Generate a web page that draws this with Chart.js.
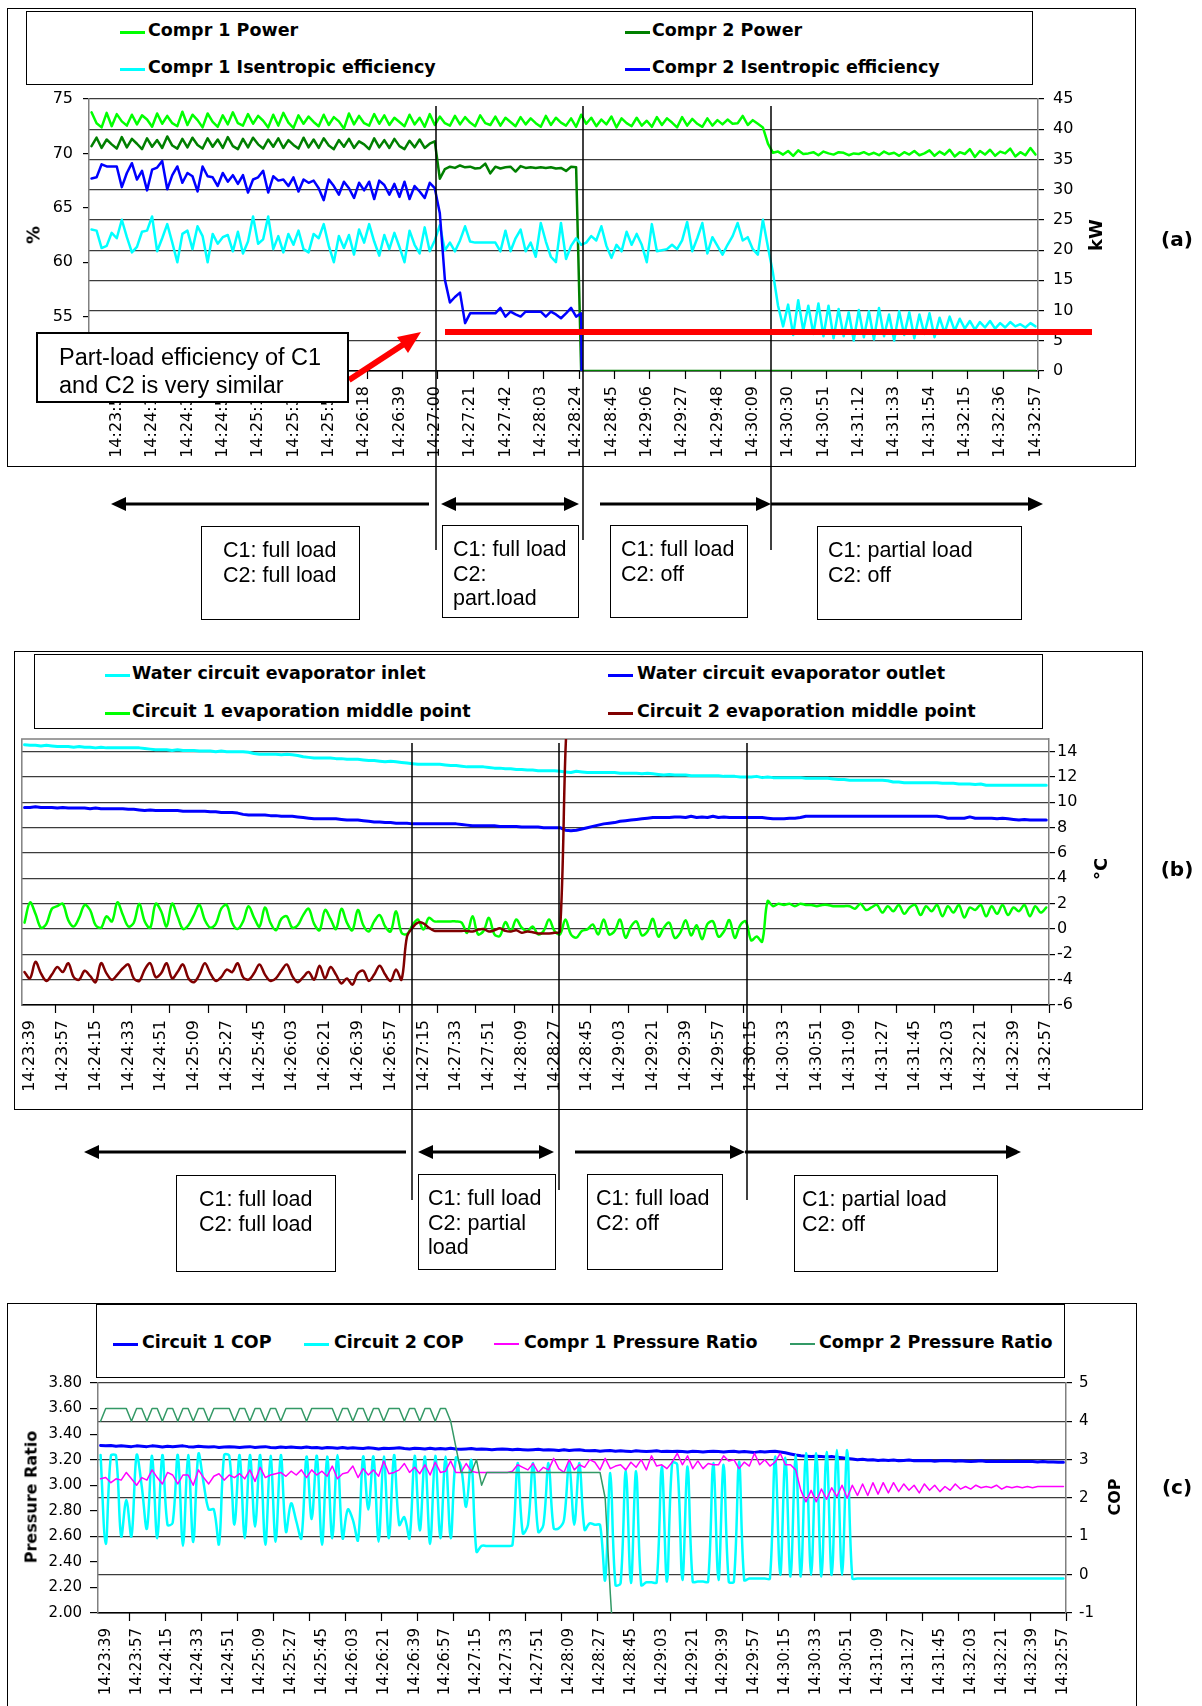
<!DOCTYPE html>
<html>
<head>
<meta charset="utf-8">
<title>Compressor part-load test</title>
<script src="https://cdn.jsdelivr.net/npm/chart.js"></script>
<style>
  html, body { margin: 0; padding: 0; background: #fff; }
  #page { position: relative; width: 1202px; height: 1706px; overflow: hidden; }
  .frame { position: absolute; border: 1.5px solid #000; box-sizing: border-box; }
  canvas { position: absolute; z-index: 1; }
  .legend { position: absolute; border: 1.5px solid #000; box-sizing: border-box; background: #fff; z-index: 2; }
  .lg-line { position: absolute; z-index: 3; }
  .lg-text { position: absolute; z-index: 3; height: 24px; line-height: 24px; white-space: nowrap;
             font: bold 17.5px "DejaVu Sans", Verdana, sans-serif; color: #000; }
  .vtitle { position: absolute; z-index: 3; white-space: nowrap; color: #000;
            transform: translate(-50%, -50%) rotate(-90deg); font: bold 18px "DejaVu Sans", sans-serif; }
  .tag { position: absolute; z-index: 3; transform: translate(-50%, -50%); font: bold 20px "DejaVu Sans", sans-serif; }
  .note { position: absolute; z-index: 5; box-sizing: border-box; border: 1.5px solid #000; background: #fff;
          font: 21.5px "Liberation Sans", Arial, sans-serif; line-height: 24.5px; color: #000;
          white-space: nowrap; overflow: hidden; padding-top: 11px; }
  #overlay { position: absolute; left: 0; top: 0; z-index: 4; }
</style>
</head>
<body>
<div id="page">
  <!-- panel frames -->
  <div class="frame" style="left:7px;top:8px;width:1129px;height:459px"></div>
  <div class="frame" style="left:14px;top:651px;width:1129px;height:459px"></div>
  <div class="frame" style="left:7px;top:1303px;width:1130px;height:440px"></div>

  <canvas id="cA" width="1129" height="459" style="left:7px;top:8px"></canvas>
  <canvas id="cB" width="1128" height="459" style="left:15px;top:651px"></canvas>
  <canvas id="cC" width="1130" height="403" style="left:7px;top:1303px"></canvas>

  <div class="legend" style="left:26px;top:11px;width:1007px;height:74px"></div>
  <div class="legend" style="left:34px;top:654px;width:1009px;height:75px"></div>
  <div class="legend" style="left:96px;top:1304px;width:969px;height:74px"></div>

  <!-- axis titles / panel tags -->
  <div class="vtitle" style="left:33px;top:235px">%</div>
  <div class="vtitle" style="left:1095px;top:235px">kW</div>
  <div class="tag" style="left:1177px;top:239px">(a)</div>
  <div class="vtitle" style="left:1100px;top:869px">°C</div>
  <div class="tag" style="left:1177px;top:869px">(b)</div>
  <div class="vtitle" style="left:31px;top:1497px;font-size:16px">Pressure Ratio</div>
  <div class="vtitle" style="left:1114px;top:1497px;font-size:16px">COP</div>
  <div class="tag" style="left:1177px;top:1487px">(c)</div>

  <!-- annotations -->
  <div class="note" style="left:36px;top:332px;width:313px;height:71px;border-width:2px;font-size:23.5px;line-height:28px;padding:9px 0 0 21px">Part-load efficiency of C1<br>and C2 is very similar</div>

  <div class="note" style="left:201px;top:526px;width:159px;height:94px;padding-left:21px">C1: full load<br>C2: full load</div>
  <div class="note" style="left:442px;top:525px;width:137px;height:93px;padding-left:10px">C1: full load<br>C2:<br>part.load</div>
  <div class="note" style="left:610px;top:525px;width:138px;height:93px;padding-left:10px">C1: full load<br>C2: off</div>
  <div class="note" style="left:817px;top:526px;width:205px;height:94px;padding-left:10px">C1: partial load<br>C2: off</div>

  <div class="note" style="left:176px;top:1175px;width:160px;height:97px;padding-left:22px">C1: full load<br>C2: full load</div>
  <div class="note" style="left:418px;top:1174px;width:138px;height:96px;padding-left:9px">C1: full load<br>C2: partial<br>load</div>
  <div class="note" style="left:587px;top:1174px;width:136px;height:96px;padding-left:8px">C1: full load<br>C2: off</div>
  <div class="note" style="left:794px;top:1175px;width:204px;height:97px;padding-left:7px">C1: partial load<br>C2: off</div>

  <svg id="overlay" width="1202" height="1706">
    <g stroke="#000" stroke-width="1.5">
      <line x1="436" y1="106" x2="436" y2="550"/>
      <line x1="583" y1="106" x2="583" y2="540"/>
      <line x1="771" y1="106" x2="771" y2="550"/>
      <line x1="412" y1="743" x2="412" y2="1200"/>
      <line x1="559" y1="743" x2="559" y2="1190"/>
      <line x1="747" y1="743" x2="747" y2="1200"/>
    </g>
    <g stroke="#000" stroke-width="3">
      <line x1="126" y1="504" x2="429" y2="504"/>
      <line x1="456" y1="504" x2="564" y2="504"/>
      <line x1="600" y1="504" x2="756" y2="504"/>
      <line x1="771" y1="504" x2="1028" y2="504"/>
      <line x1="99" y1="1152" x2="406" y2="1152"/>
      <line x1="433" y1="1152" x2="539" y2="1152"/>
      <line x1="575" y1="1152" x2="730" y2="1152"/>
      <line x1="745" y1="1152" x2="1006" y2="1152"/>
    </g>
    <g fill="#000">
      <polygon points="111,504 126,497 126,511"/>
      <polygon points="441,504 456,497 456,511"/>
      <polygon points="579,504 564,497 564,511"/>
      <polygon points="771,504 756,497 756,511"/>
      <polygon points="1043,504 1028,497 1028,511"/>
      <polygon points="84,1152 99,1145 99,1159"/>
      <polygon points="418,1152 433,1145 433,1159"/>
      <polygon points="554,1152 539,1145 539,1159"/>
      <polygon points="745,1152 730,1145 730,1159"/>
      <polygon points="1021,1152 1006,1145 1006,1159"/>
    </g>
    <line x1="445" y1="332" x2="1092" y2="332" stroke="#FF0000" stroke-width="6"/>
    <line x1="349" y1="380" x2="404" y2="344" stroke="#FF0000" stroke-width="6"/>
    <polygon points="421,332 397,337 408,353" fill="#FF0000"/>
  </svg>
</div>

<script>
// ---------------- time axis ----------------
const T_START = "14:23:39";     // axis time zero
const FIRST_SAMPLE = -3;        // first logged sample (s from T_START)
const SAMPLE_STEP = 3;          // logging interval (s)
const X_MIN = -4.5, X_MAX = 559.5;

const labelsA = ["14:23:51","14:24:12","14:24:33","14:24:54","14:25:15","14:25:36","14:25:57",
  "14:26:18","14:26:39","14:27:00","14:27:21","14:27:42","14:28:03","14:28:24","14:28:45",
  "14:29:06","14:29:27","14:29:48","14:30:09","14:30:30","14:30:51","14:31:12","14:31:33",
  "14:31:54","14:32:15","14:32:36","14:32:57"];
const labelsBC = ["14:23:39","14:23:57","14:24:15","14:24:33","14:24:51","14:25:09","14:25:27",
  "14:25:45","14:26:03","14:26:21","14:26:39","14:26:57","14:27:15","14:27:33","14:27:51",
  "14:28:09","14:28:27","14:28:45","14:29:03","14:29:21","14:29:39","14:29:57","14:30:15",
  "14:30:33","14:30:51","14:31:09","14:31:27","14:31:45","14:32:03","14:32:21","14:32:39","14:32:57"];

const effTicks = [50, 55, 60, 65, 70, 75];
const kwTicks  = [0, 5, 10, 15, 20, 25, 30, 35, 40, 45];
const degTicks = [-6, -4, -2, 0, 2, 4, 6, 8, 10, 12, 14];
const prTicks  = [2.0, 2.2, 2.4, 2.6, 2.8, 3.0, 3.2, 3.4, 3.6, 3.8];
const copTicks = [-1, 0, 1, 2, 3, 4, 5];

// ---------------- (a) compressor power [kW] / isentropic efficiency [%] ----------------
const c1Power = [
  42.8,41.0,40.3,42.7,40.5,42.5,41.3,40.6,42.4,40.8,
  42.3,41.6,40.4,42.6,40.9,42.2,41.0,40.5,42.9,40.7,
  42.4,41.5,40.3,42.6,41.2,40.4,42.3,40.8,42.8,41.0,
  40.6,42.5,40.9,42.2,41.4,40.3,42.4,40.6,42.7,41.1,
  40.2,42.3,40.9,42.1,41.2,40.5,42.4,40.7,42.0,41.3,
  40.1,42.6,40.8,42.2,41.0,40.6,42.5,40.9,42.3,40.7,
  41.9,41.2,40.5,42.4,40.8,41.9,40.4,42.5,40.7,42.1,
  41.0,40.6,42.2,40.8,42.0,41.1,40.5,42.3,41.0,40.7,
  42.1,40.6,41.9,41.2,40.5,42.0,40.8,41.8,41.0,40.4,
  42.2,40.7,41.9,41.1,40.6,41.8,40.4,42.4,40.9,41.9,
  40.5,41.6,40.8,42.1,40.3,41.8,41.0,40.5,41.9,40.6,
  41.4,40.4,42.0,40.7,41.8,41.1,40.3,42.0,40.6,41.7,
  40.9,40.4,41.8,40.6,41.5,40.8,41.6,40.9,41.0,42.2,
  40.7,41.5,40.9,40.3,37.6,36.1,36.3,35.8,36.4,35.6,
  36.5,35.9,36.0,36.2,35.7,36.3,36.0,35.8,36.2,36.1,
  35.7,36.0,35.9,36.2,35.8,36.1,35.7,36.3,35.9,36.1,
  35.6,36.2,35.8,36.4,35.7,36.0,36.5,35.6,36.3,35.8,
  36.6,35.5,36.2,35.9,36.7,35.4,36.4,35.8,36.6,35.6,
  36.3,36.0,36.8,35.5,36.2,35.7,36.9,35.8
];
const c2Power = [
  37.2,38.6,36.9,38.3,37.5,36.8,38.7,37.0,38.4,37.6,
  36.7,38.5,37.1,38.2,36.9,38.8,37.3,36.8,38.4,37.0,
  38.6,37.4,36.8,38.5,37.1,38.3,36.9,38.7,37.2,36.7,
  38.4,37.0,38.6,37.5,36.8,38.3,37.1,38.5,36.9,38.2,
  37.4,36.8,38.6,37.0,38.3,36.9,38.5,37.3,36.7,38.2,
  37.1,38.4,36.9,38.0,37.5,36.7,38.5,37.0,38.2,36.9,
  38.4,37.2,36.7,38.1,37.0,38.3,36.9,37.6,38.0,31.8,
  33.4,33.8,33.6,34.0,33.7,33.8,33.5,33.6,34.3,32.7,
  33.8,33.5,33.7,33.8,33.0,33.9,33.6,33.7,33.6,33.7,
  33.6,33.7,33.5,33.6,33.1,33.8,33.7,0,0,0,
  0,0,0,0,0,0,0,0,0,0,
  0,0,0,0,0,0,0,0,0,0,
  0,0,0,0,0,0,0,0,0,0,
  0,0,0,0,0,0,0,0,0,0,
  0,0,0,0,0,0,0,0,0,0,
  0,0,0,0,0,0,0,0,0,0,
  0,0,0,0,0,0,0,0,0,0,
  0,0,0,0,0,0,0,0,0,0,
  0,0,0,0,0,0,0,0
];
const c1IsenEff = [
  63.0,62.9,61.3,61.5,62.7,62.2,63.9,62.3,60.9,61.4,
  62.8,62.9,64.2,61.0,62.2,63.5,61.8,60.0,62.6,62.9,
  61.2,63.3,62.4,60.0,62.6,61.7,62.3,62.5,61.0,62.8,
  60.8,61.9,64.2,61.7,62.1,64.2,61.2,62.4,60.9,62.6,
  61.6,62.9,61.2,60.9,62.6,62.2,63.5,61.5,60.0,62.4,
  61.3,62.5,60.7,63.0,61.8,63.5,61.9,60.6,62.5,61.2,
  62.7,61.4,60.0,62.9,61.6,60.8,63.2,61.0,62.0,63.4,
  61.1,61.8,61.0,62.0,63.3,61.9,61.8,61.8,61.8,61.8,
  61.8,61.0,62.9,61.0,62.2,63.0,61.0,61.8,60.5,63.6,
  61.9,60.5,60.0,63.6,60.3,61.5,62.2,61.6,61.8,62.4,
  62.0,63.3,61.5,60.4,61.6,61.0,62.8,61.6,62.6,61.6,
  60.0,63.5,61.0,61.1,61.2,61.6,61.2,62.0,63.7,61.0,
  62.2,63.6,60.8,62.3,61.5,60.7,61.6,62.4,63.6,62.0,
  62.3,61.2,60.7,63.9,61.4,59.0,56.0,54.1,56.1,53.3,
  56.5,53.7,56.0,53.4,56.2,53.2,56.0,53.0,55.7,53.2,
  55.4,52.8,55.6,53.1,55.5,52.9,55.8,53.2,55.2,52.8,
  55.5,53.3,55.4,53.0,55.2,53.4,55.3,53.1,54.9,53.5,
  55.0,53.7,54.8,53.9,54.6,53.8,54.5,54.0,54.6,53.9,
  54.4,54.0,54.5,54.1,54.3,54.0,54.4,54.1
];
const c2IsenEff = [
  67.7,67.8,69.0,68.8,68.8,68.8,66.9,68.2,69.1,67.6,
  68.4,66.6,68.5,68.7,69.3,66.7,68.0,68.8,67.3,68.2,
  67.9,66.5,68.8,67.9,67.8,67.0,68.2,67.4,68.0,67.2,
  68.0,66.4,67.6,67.8,68.4,66.4,67.9,67.5,67.6,67.0,
  67.8,66.5,67.6,67.3,67.5,66.8,65.7,67.6,67.0,66.2,
  67.4,66.8,65.9,67.3,66.6,67.4,65.8,67.5,67.1,66.2,
  67.2,66.0,67.4,65.8,67.0,66.5,65.9,67.3,66.8,64.5,
  58.4,56.3,56.8,57.2,54.4,55.3,55.3,55.3,55.3,55.3,
  55.3,55.8,55.0,55.45,55.2,55.0,55.45,55.45,55.45,55.45,
  55.0,55.45,55.2,54.85,55.3,55.8,55.0,55.3,0
];

// ---------------- (b) temperatures [°C] ----------------
const evapInlet = [
  14.55,14.5,14.5,14.45,14.5,14.45,14.4,14.4,14.4,14.35,
  14.4,14.35,14.35,14.3,14.35,14.3,14.3,14.3,14.3,14.3,
  14.3,14.3,14.25,14.2,14.15,14.15,14.15,14.1,14.15,14.1,
  14.1,14.1,14.05,14.05,14.05,14.0,14.05,14.0,14.0,14.0,
  14.0,13.95,13.85,13.8,13.8,13.8,13.8,13.75,13.8,13.75,
  13.7,13.6,13.55,13.5,13.5,13.5,13.5,13.45,13.45,13.4,
  13.4,13.4,13.35,13.3,13.3,13.25,13.2,13.25,13.2,13.15,
  13.1,13.05,13.0,13.0,13.0,13.0,13.0,12.95,12.9,12.9,
  12.85,12.8,12.8,12.8,12.8,12.75,12.7,12.7,12.65,12.65,
  12.6,12.6,12.55,12.55,12.5,12.5,12.5,12.5,12.45,12.4,
  12.35,12.45,12.4,12.35,12.35,12.35,12.35,12.35,12.35,12.3,
  12.3,12.3,12.3,12.25,12.3,12.25,12.2,12.15,12.2,12.15,
  12.15,12.15,12.1,12.1,12.1,12.1,12.1,12.1,12.05,12.05,
  12.05,12.0,12.0,12.0,12.05,11.95,12.0,11.95,11.95,11.95,
  11.95,11.95,11.95,11.9,11.9,11.9,11.9,11.9,11.85,11.8,
  11.8,11.75,11.75,11.75,11.75,11.75,11.75,11.75,11.7,11.6,
  11.6,11.55,11.55,11.55,11.55,11.55,11.55,11.55,11.5,11.5,
  11.5,11.45,11.45,11.45,11.4,11.45,11.35,11.35,11.35,11.35,
  11.35,11.35,11.35,11.35,11.35,11.35,11.35,11.35
];
const evapOutlet = [
  9.6,9.6,9.65,9.6,9.6,9.6,9.55,9.6,9.55,9.55,
  9.55,9.55,9.5,9.55,9.5,9.5,9.5,9.5,9.5,9.45,
  9.45,9.4,9.35,9.4,9.35,9.35,9.35,9.35,9.35,9.3,
  9.3,9.3,9.3,9.3,9.25,9.25,9.2,9.2,9.2,9.15,
  9.05,9.0,9.0,9.0,9.0,8.95,8.95,8.9,8.9,8.9,
  8.85,8.8,8.75,8.7,8.7,8.7,8.7,8.7,8.65,8.6,
  8.6,8.6,8.55,8.5,8.45,8.45,8.4,8.4,8.35,8.35,
  8.35,8.3,8.3,8.3,8.3,8.3,8.3,8.3,8.3,8.3,
  8.25,8.2,8.15,8.15,8.15,8.15,8.15,8.1,8.1,8.1,
  8.1,8.05,8.05,8.05,8.05,8.0,8.0,8.0,8.0,7.8,
  7.75,7.8,7.9,8.0,8.1,8.2,8.3,8.35,8.4,8.5,
  8.55,8.6,8.65,8.7,8.75,8.8,8.8,8.8,8.8,8.85,
  8.85,8.8,8.9,8.8,8.85,8.8,8.9,8.8,8.85,8.8,
  8.8,8.8,8.8,8.8,8.8,8.8,8.75,8.7,8.7,8.7,
  8.75,8.75,8.8,8.9,8.9,8.9,8.9,8.9,8.9,8.9,
  8.9,8.9,8.9,8.9,8.9,8.9,8.9,8.9,8.9,8.9,
  8.9,8.9,8.9,8.9,8.9,8.9,8.9,8.9,8.85,8.75,
  8.75,8.75,8.75,8.85,8.75,8.75,8.75,8.75,8.7,8.75,
  8.7,8.65,8.6,8.65,8.6,8.6,8.6,8.6
];
const circ1Evap = [
  0.5,2.1,1.2,0.1,0.4,1.6,1.8,2.0,0.7,0.2,
  0.9,1.9,1.5,0.3,0.1,1.0,0.6,2.1,1.1,0.2,
  0.5,2.0,0.6,0.1,2.0,1.4,0.2,2.0,1.0,0.0,
  0.3,1.1,1.9,0.7,0.1,0.4,1.6,1.9,0.5,0.0,
  0.6,1.8,0.9,0.2,1.7,0.5,-0.1,0.8,1.0,0.1,
  0.3,1.1,1.6,0.4,-0.1,1.5,0.8,0.0,1.6,0.5,
  -0.1,1.5,0.3,-0.2,0.6,1.1,0.2,-0.2,1.4,-0.3,
  -0.4,0.3,0.75,-0.04,0.88,0.6,0.6,0.6,0.6,0.6,
  0.5,-0.3,1.0,-0.42,-0.16,0.88,-0.42,-0.55,0.55,-0.16,
  0.75,0.1,-0.16,0.2,-0.42,-0.16,0.75,-0.16,-0.42,0.75,
  -0.42,-0.68,-0.16,-0.03,0.36,-0.42,0.75,-0.42,-0.16,0.75,
  -0.68,0.2,0.6,-0.5,-0.2,0.8,-0.6,0.1,0.5,-0.7,
  -0.3,0.7,-0.5,0.3,-0.8,0.4,0.6,-0.6,-0.2,0.7,
  -0.7,0.3,0.6,-0.9,-0.6,-1.0,2.2,1.8,2.0,1.9,
  2.0,1.8,2.0,1.9,1.9,1.8,1.9,1.9,1.8,1.8,
  1.8,1.8,1.6,2.0,1.5,1.7,1.9,1.3,1.8,1.4,
  1.9,1.2,1.7,1.9,1.1,1.8,1.4,1.9,1.0,1.8,
  1.3,1.9,0.9,1.7,1.5,1.9,1.0,1.8,1.2,1.9,
  1.1,1.7,1.4,1.9,1.0,1.8,1.3,1.7
];
const circ2Evap = [
  -3.4,-3.9,-2.6,-3.5,-4.1,-3.6,-3.0,-3.4,-2.7,-3.8,
  -4.0,-3.3,-3.7,-4.2,-2.7,-3.5,-4.0,-3.6,-3.1,-2.8,
  -3.9,-4.1,-3.2,-2.7,-3.8,-3.5,-2.7,-3.9,-3.4,-2.8,
  -3.9,-4.2,-3.6,-2.7,-3.5,-4.1,-3.8,-3.2,-3.4,-2.7,
  -3.8,-4.0,-3.5,-2.8,-3.6,-4.1,-3.9,-3.3,-2.8,-3.7,
  -4.2,-3.8,-3.4,-4.0,-2.9,-3.9,-3.0,-3.6,-4.3,-3.9,
  -4.4,-3.5,-3.3,-4.1,-3.6,-2.9,-3.6,-4.1,-3.2,-4.0,
  -0.6,0.1,0.5,0.45,0.1,-0.15,-0.15,-0.15,-0.15,-0.15,
  -0.15,-0.15,-0.2,-0.05,0.0,-0.2,-0.1,0.05,-0.15,-0.2,
  -0.1,-0.3,-0.2,-0.25,-0.35,-0.35,-0.35,-0.3,-0.2,14.0,
  24.0
];

// ---------------- (c) COP / pressure ratio ----------------
const circ1Cop = [
  3.37,3.36,3.37,3.35,3.36,3.35,3.34,3.36,3.35,3.34,
  3.36,3.35,3.33,3.35,3.34,3.35,3.36,3.34,3.33,3.35,
  3.34,3.33,3.34,3.32,3.33,3.34,3.33,3.32,3.33,3.34,
  3.32,3.33,3.34,3.32,3.31,3.33,3.32,3.33,3.32,3.31,
  3.33,3.31,3.32,3.30,3.32,3.31,3.30,3.32,3.30,3.31,
  3.30,3.29,3.31,3.30,3.28,3.30,3.29,3.30,3.31,3.29,
  3.28,3.30,3.29,3.28,3.30,3.28,3.29,3.28,3.30,3.28,
  3.27,3.28,3.29,3.27,3.28,3.27,3.26,3.27,3.28,3.27,
  3.26,3.27,3.26,3.25,3.26,3.27,3.25,3.26,3.25,3.24,
  3.26,3.24,3.25,3.26,3.24,3.23,3.24,3.22,3.23,3.24,
  3.22,3.23,3.22,3.21,3.23,3.22,3.21,3.22,3.23,3.21,
  3.22,3.21,3.22,3.21,3.20,3.22,3.21,3.20,3.21,3.22,
  3.21,3.20,3.21,3.22,3.20,3.21,3.20,3.19,3.21,3.20,
  3.21,3.22,3.20,3.18,3.15,3.12,3.10,3.09,3.08,3.09,
  3.08,3.07,3.08,3.06,3.05,3.03,3.02,3.00,3.01,2.99,
  3.00,2.98,2.99,2.98,2.99,2.97,2.98,2.99,2.97,2.98,
  2.97,2.98,2.96,2.97,2.98,2.97,2.96,2.97,2.96,2.95,
  2.96,2.97,2.95,2.96,2.95,2.96,2.95,2.95,2.96,2.95,
  2.95,2.95,2.94,2.95,2.94,2.94,2.93,2.93
];
const circ2Cop = [
  3.12,0.8,3.1,3.1,1.0,1.95,1.0,3.12,2.3,1.2,
  3.1,0.95,3.12,1.3,1.35,3.12,0.75,3.12,0.85,3.15,
  2.4,1.7,1.7,0.8,3.12,3.1,1.3,3.12,0.95,3.12,
  1.25,3.12,0.78,3.1,0.86,3.12,1.12,1.86,1.4,0.95,
  3.08,1.45,3.1,0.78,3.08,0.95,3.12,0.95,1.7,1.43,
  0.9,3.08,1.7,3.08,0.86,3.08,0.95,3.12,1.3,1.5,
  0.95,3.1,1.15,3.08,0.8,3.1,0.95,3.08,0.95,3.05,
  2.82,1.77,2.99,0.6,0.75,0.75,0.75,0.75,0.75,0.75,
  0.78,2.91,1.08,1.3,2.91,1.12,1.3,2.91,1.21,1.21,
  1.43,2.91,1.3,2.91,1.17,1.34,1.3,1.3,-0.14,2.65,
  -0.27,-0.22,2.73,-0.22,2.7,-0.27,-0.2,-0.2,-0.2,2.82,
  -0.18,2.91,2.87,-0.14,2.82,-0.18,-0.18,-0.18,-0.18,2.91,
  -0.14,2.87,-0.18,-0.18,2.95,-0.14,-0.1,-0.1,-0.1,-0.1,
  -0.1,3.08,-0.01,3.05,-0.05,3.12,-0.05,3.17,-0.01,3.17,
  -0.05,3.2,-0.01,3.25,-0.01,3.25,-0.09,-0.1,-0.1,-0.1,
  -0.1,-0.1,-0.1,-0.1,-0.1,-0.1,-0.1,-0.1,-0.1,-0.1,
  -0.1,-0.1,-0.1,-0.1,-0.1,-0.1,-0.1,-0.1,-0.1,-0.1,
  -0.1,-0.1,-0.1,-0.1,-0.1,-0.1,-0.1,-0.1,-0.1,-0.1,
  -0.1,-0.1,-0.1,-0.1,-0.1,-0.1,-0.1,-0.1
];
const compr1Pr = [
  3.05,3.06,3.02,3.05,3.04,3.10,3.05,3.00,3.06,3.04,
  3.12,3.06,3.01,3.10,3.08,3.01,3.08,3.08,3.00,3.12,
  3.06,3.01,3.07,3.09,3.04,3.08,3.06,3.09,3.05,3.12,
  3.03,3.14,3.06,3.08,3.09,3.10,3.07,3.11,3.08,3.12,
  3.06,3.12,3.08,3.11,3.07,3.15,3.05,3.09,3.10,3.15,
  3.06,3.13,3.08,3.12,3.07,3.19,3.09,3.10,3.12,3.17,
  3.10,3.14,3.09,3.16,3.08,3.18,3.10,3.11,3.19,3.10,
  3.10,3.17,3.11,3.10,3.10,3.10,3.10,3.10,3.10,3.10,
  3.11,3.16,3.14,3.12,3.17,3.10,3.14,3.12,3.21,3.13,
  3.10,3.20,3.12,3.16,3.14,3.20,3.18,3.12,3.21,3.13,
  3.15,3.16,3.12,3.18,3.14,3.20,3.12,3.23,3.15,3.16,
  3.13,3.18,3.25,3.16,3.23,3.13,3.19,3.13,3.17,3.16,
  3.16,3.23,3.19,3.20,3.13,3.18,3.15,3.25,3.16,3.20,
  3.15,3.18,3.25,3.16,3.16,3.12,2.96,2.87,2.96,2.87,
  2.97,2.89,2.98,2.91,3.00,2.90,3.00,2.92,3.01,2.92,
  3.02,2.93,3.02,2.94,3.02,2.95,3.01,2.96,3.00,2.94,
  3.01,2.96,3.00,2.95,2.99,2.96,3.01,2.97,2.99,2.97,
  3.00,2.98,2.99,2.98,3.00,2.97,2.99,2.98,2.99,2.98,
  2.99,2.98,2.99,2.99,2.99,2.99,2.99,2.99
];
const compr2Pr = [
  3.5,3.6,3.6,3.6,3.6,3.6,3.5,3.6,3.6,3.5,
  3.6,3.6,3.5,3.6,3.6,3.5,3.6,3.6,3.5,3.6,
  3.6,3.5,3.6,3.6,3.6,3.6,3.5,3.6,3.6,3.5,
  3.6,3.6,3.5,3.6,3.6,3.5,3.6,3.6,3.6,3.6,
  3.5,3.6,3.6,3.6,3.6,3.6,3.5,3.6,3.6,3.5,
  3.6,3.6,3.5,3.6,3.6,3.5,3.6,3.6,3.6,3.5,
  3.6,3.6,3.5,3.6,3.6,3.5,3.6,3.6,3.5,3.3,
  3.1,3.1,3.1,3.2,3.0,3.1,3.1,3.1,3.1,3.1,
  3.1,3.1,3.1,3.1,3.1,3.1,3.1,3.1,3.1,3.1,
  3.1,3.1,3.1,3.1,3.1,3.1,3.1,3.1,2.9,2.15,
  1.5
];

// ---------------- helpers ----------------
const FONT = '"DejaVu Sans", Verdana, sans-serif';
const GRID = "#3c3c3c";

function secOf(hms){
  const [h, m, s] = hms.split(":").map(Number);
  const [h0, m0, s0] = T_START.split(":").map(Number);
  return (h*3600 + m*60 + s) - (h0*3600 + m0*60 + s0);
}
const pts = (arr) => arr.map((v, i) => ({ x: FIRST_SAMPLE + i*SAMPLE_STEP, y: v }));

// category boundary tick marks every 7 samples (Excel style)
const markTimes = [];
for (let t = 13.5; t <= X_MAX + 0.01; t += 21) markTimes.push(t);

// smooth = Excel "smoothed line" series
function ds(label, data, color, axis, width, order, smooth){
  return { label, data: pts(data), borderColor: color, backgroundColor: color, yAxisID: axis,
           borderWidth: width, pointRadius: 0, tension: smooth ? 0.35 : 0, fill: false, order,
           borderJoinStyle: "round", borderCapStyle: "round" };
}

function xAxis(labels, size, height){
  const vals = labels.map(secOf);
  return {
    type: "linear", position: "bottom", min: X_MIN, max: X_MAX,
    afterBuildTicks: (s) => { s.ticks = vals.map(v => ({ value: v })); },
    afterFit: (s) => { s.height = height; },
    grid: { display: false, drawTicks: false },
    border: { display: true, color: "#000", width: 1.5 },
    ticks: { autoSkip: false, minRotation: 90, maxRotation: 90, padding: 15, color: "#000",
             font: { family: FONT, size }, callback: (v, i) => labels[i] }
  };
}

function yAxis(pos, min, max, vals, width, o){
  return {
    type: "linear", position: pos, min, max,
    afterBuildTicks: (s) => { s.ticks = vals.map(v => ({ value: v })); },
    afterFit: (s) => { s.width = width; },
    grid: { display: true, drawOnChartArea: !!o.grid, drawTicks: true, tickLength: o.tick,
            color: GRID, lineWidth: 1.2, tickColor: "#000", tickWidth: 1.2 },
    border: { display: true, color: "#808080", width: 1.5 },
    ticks: { padding: o.pad, color: "#000", font: { family: FONT, size: o.size || 16 },
             callback: o.fmt || ((v) => String(v)) }
  };
}

const tickMarkPlugin = {
  id: "tickMarks",
  afterDraw(chart, args, opts){
    const { ctx, chartArea } = chart;
    const x = chart.scales.x;
    ctx.save();
    ctx.strokeStyle = "#000";
    ctx.lineWidth = 1.2;
    markTimes.forEach(t => {
      const px = Math.round(x.getPixelForValue(t)) + 0.5;
      ctx.beginPath();
      ctx.moveTo(px, chartArea.bottom);
      ctx.lineTo(px, chartArea.bottom + (opts.length || 8));
      ctx.stroke();
    });
    ctx.restore();
  }
};

const plotFramePlugin = {
  id: "plotFrame",
  beforeDatasetsDraw(chart, args, opts){
    if (!opts.on) return;
    const { ctx, chartArea: a } = chart;
    ctx.save();
    ctx.strokeStyle = "#808080";
    ctx.lineWidth = 1.5;
    ctx.beginPath();
    ctx.moveTo(a.left, a.bottom);
    ctx.lineTo(a.left, a.top);
    ctx.lineTo(a.right, a.top);
    ctx.stroke();
    ctx.restore();
  }
};

function baseOptions(pad, scales, frame){
  return {
    responsive: false, animation: false, events: [],
    layout: { padding: { top: pad.top, left: pad.left || 0, right: 0, bottom: 0 }, autoPadding: false },
    plugins: { legend: { display: false }, tooltip: { enabled: false },
               tickMarks: { length: 8 }, plotFrame: { on: !!frame } },
    scales
  };
}

function htmlLegend(chart, spots){
  const page = document.getElementById("page");
  chart.data.datasets.forEach((d, k) => {
    const s = spots[k];
    const th = d.borderWidth >= 2.5 ? 3 : 2;
    const ln = document.createElement("div");
    ln.className = "lg-line";
    ln.style.cssText = `left:${s.lx}px;top:${s.y - th/2}px;width:25px;height:${th}px;background:${d.borderColor}`;
    const tx = document.createElement("div");
    tx.className = "lg-text";
    tx.style.cssText = `left:${s.tx}px;top:${s.y - 12}px`;
    tx.textContent = d.label;
    page.appendChild(ln);
    page.appendChild(tx);
  });
}

// ---------------- chart (a) ----------------
const chartA = new Chart(document.getElementById("cA"), {
  type: "line",
  data: { datasets: [
    ds("Compr 1 Power", c1Power, "#00FF00", "yR", 2.5, 4),
    ds("Compr 2 Power", c2Power, "#008000", "yR", 2.5, 3),
    ds("Compr 1 Isentropic efficiency", c1IsenEff, "#00FFFF", "yL", 2.5, 2),
    ds("Compr 2 Isentropic efficiency", c2IsenEff, "#0000FF", "yL", 2.5, 1)
  ]},
  options: baseOptions({ top: 91 }, {
    x: xAxis(labelsA, 16, 96),
    yL: yAxis("left", 50, 75, effTicks, 82, { tick: 6, pad: 10, grid: false }),
    yR: yAxis("right", 0, 45, kwTicks, 98, { tick: 6, pad: 9, grid: true })
  }, false),
  plugins: [tickMarkPlugin, plotFramePlugin]
});

// ---------------- chart (b) ----------------
const chartB = new Chart(document.getElementById("cB"), {
  type: "line",
  data: { datasets: [
    ds("Water circuit evaporator inlet", evapInlet, "#00FFFF", "yR", 3, 4),
    ds("Water circuit evaporator outlet", evapOutlet, "#0000FF", "yR", 3, 3),
    ds("Circuit 1 evaporation middle point", circ1Evap, "#00FF00", "yR", 2.5, 2, true),
    ds("Circuit 2 evaporation middle point", circ2Evap, "#800000", "yR", 2.5, 1, true)
  ]},
  options: baseOptions({ top: 88 }, {
    x: xAxis(labelsBC, 16, 105),
    yR: yAxis("right", -6, 15, degTicks, 94, { tick: 6, pad: 2, grid: true })
  }, true),
  plugins: [tickMarkPlugin, plotFramePlugin]
});

// ---------------- chart (c) ----------------
const chartC = new Chart(document.getElementById("cC"), {
  type: "line",
  data: { datasets: [
    ds("Circuit 1 COP", circ1Cop, "#0000FF", "yR", 3, 4),
    ds("Circuit 2 COP", circ2Cop, "#00FFFF", "yR", 2.5, 3, true),
    ds("Compr 1 Pressure Ratio", compr1Pr, "#FF00FF", "yL", 1.5, 2),
    ds("Compr 2 Pressure Ratio", compr2Pr, "#339966", "yL", 1.5, 1)
  ]},
  options: baseOptions({ top: 80 }, {
    x: xAxis(labelsBC, 15, 93),
    yL: yAxis("left", 2.0, 3.8, prTicks, 91, { tick: 8, pad: 8, grid: false, size: 15, fmt: (v) => v.toFixed(2) }),
    yR: yAxis("right", -1, 5, copTicks, 71, { tick: 6, pad: 7, grid: true, size: 15 })
  }, false),
  plugins: [tickMarkPlugin, plotFramePlugin]
});

// ---------------- legends ----------------
htmlLegend(chartA, [
  { lx: 120, tx: 148, y: 32 }, { lx: 625, tx: 652, y: 32 },
  { lx: 120, tx: 148, y: 69 }, { lx: 625, tx: 652, y: 69 }
]);
htmlLegend(chartB, [
  { lx: 105, tx: 132, y: 675 }, { lx: 608, tx: 637, y: 675 },
  { lx: 105, tx: 132, y: 713 }, { lx: 608, tx: 637, y: 713 }
]);
htmlLegend(chartC, [
  { lx: 113, tx: 142, y: 1344 }, { lx: 304, tx: 334, y: 1344 },
  { lx: 494, tx: 524, y: 1344 }, { lx: 790, tx: 819, y: 1344 }
]);
</script>
</body>
</html>
